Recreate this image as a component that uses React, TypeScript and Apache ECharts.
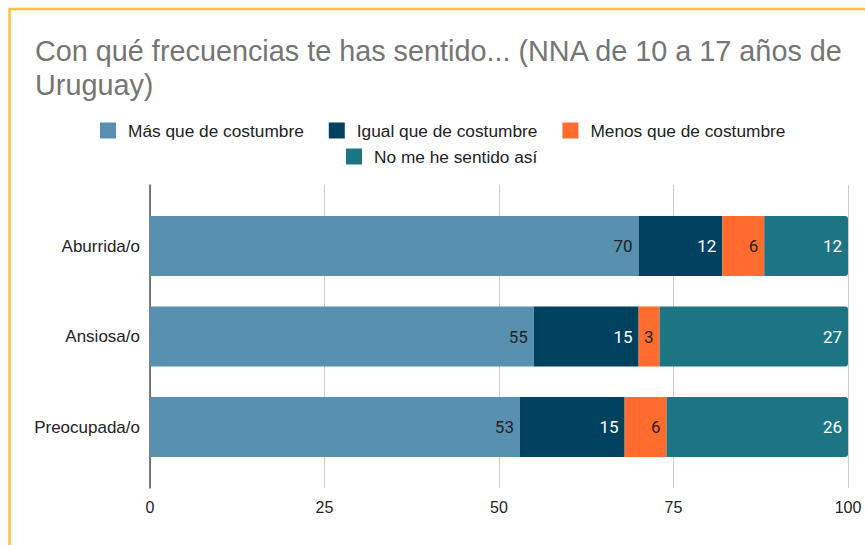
import React, { useEffect, useRef } from "react";
import * as echarts from "echarts";

const titleLines = ["Con qué frecuencias te has sentido... (NNA de 10 a 17 años de", "Uruguay)"];
const categories = ["Aburrida/o", "Ansiosa/o", "Preocupada/o"];
const seriesNames = ["Más que de costumbre", "Igual que de costumbre", "Menos que de costumbre", "No me he sentido así"];
const masQue = [70, 55, 53];
const igualQue = [12, 15, 15];
const menosQue = [6, 3, 6];
const noMeHe = [12, 27, 26];
const xTicks = [0, 25, 50, 75, 100];

const colors = ["#5891B0", "#00415F", "#FF6C2D", "#1D7584"];
const labelColors = ["#222222", "#FFFFFF", "#222222", "#FFFFFF"];

export default function App() {
  const ref = useRef<HTMLDivElement>(null);
  useEffect(() => {
    if (!ref.current) return;
    const chart = echarts.init(ref.current, undefined, { renderer: "svg" });
    const values = [masQue, igualQue, menosQue, noMeHe];
    const font = "'Liberation Sans', Arial, sans-serif";
    const series = seriesNames.map((name, i) => ({
      name,
      type: "bar",
      stack: "total",
      xAxisIndex: 1,
      yAxisIndex: 1,
      barWidth: 60,
      data: values[i],
      itemStyle: {
        color: colors[i],
        borderRadius: i === 3 ? [0, 3, 3, 0] : 0,
      },
      label: {
        show: true,
        position: "insideRight",
        distance: 6,
        color: labelColors[i],
        fontSize: 17,
        fontFamily: "Roboto, 'Liberation Sans', sans-serif",
      },
      emphasis: { disabled: true },
    }));
    chart.setOption({
      animation: false,
      backgroundColor: "#ffffff",
      textStyle: { fontFamily: font },
      title: {
        text: titleLines.join("\n"),
        left: 35,
        top: 34,
        padding: 0,
        textStyle: {
          fontSize: 28.8,
          lineHeight: 34,
          fontWeight: "normal",
          color: "#757575",
          fontFamily: font,
        },
      },
      legend: [
        {
          data: seriesNames.slice(0, 3),
          left: 100,
          top: 122,
          padding: 0,
          itemWidth: 16,
          itemHeight: 16,
          itemGap: 25,
          icon: "rect",
          selectedMode: false,
          textStyle: { fontSize: 17.3, color: "#222222", padding: [0, 0, 0, 7], fontFamily: font },
        },
        {
          data: seriesNames.slice(3),
          left: 346,
          top: 148,
          padding: 0,
          itemWidth: 16,
          itemHeight: 16,
          icon: "rect",
          selectedMode: false,
          textStyle: { fontSize: 17.3, color: "#222222", padding: [0, 0, 0, 7], fontFamily: font },
        },
      ],
      grid: [
        { left: 150, right: 17, top: 185, bottom: 57 },
        { left: 150, right: 17, top: 200.75, bottom: 72.75 },
      ],
      xAxis: [
        {
          type: "value",
          gridIndex: 0,
          min: xTicks[0],
          max: xTicks[xTicks.length - 1],
          interval: 25,
          axisLine: { show: false },
          axisTick: { show: false },
          splitLine: { show: true, lineStyle: { color: "#cccccc", width: 1 } },
          axisLabel: { fontSize: 16, color: "#222222", margin: 11, fontFamily: font },
        },
        {
          type: "value",
          gridIndex: 1,
          min: 0,
          max: 100,
          show: false,
        },
      ],
      yAxis: [
        {
          type: "category",
          gridIndex: 0,
          data: [""],
          axisLine: { show: true, lineStyle: { color: "#555555", width: 1.5 } },
          axisTick: { show: false },
          axisLabel: { show: false },
          splitLine: { show: false },
        },
        {
          type: "category",
          gridIndex: 1,
          data: categories,
          inverse: true,
          axisLine: { show: false },
          axisTick: { show: false },
          splitLine: { show: false },
          axisLabel: { fontSize: 17, color: "#222222", margin: 10, fontFamily: font },
        },
      ],
      graphic: [
        {
          type: "rect",
          shape: { x: 9.5, y: 9, width: 900, height: 600 },
          style: { fill: "none", stroke: "#F6C343", lineWidth: 2.5 },
          silent: true,
        },
      ],
      series,
    });
    return () => chart.dispose();
  }, []);
  return (
    <div
      ref={ref}
      style={{ position: "absolute", left: 0, top: 0, width: 865, height: 545 }}
    />
  );
}
